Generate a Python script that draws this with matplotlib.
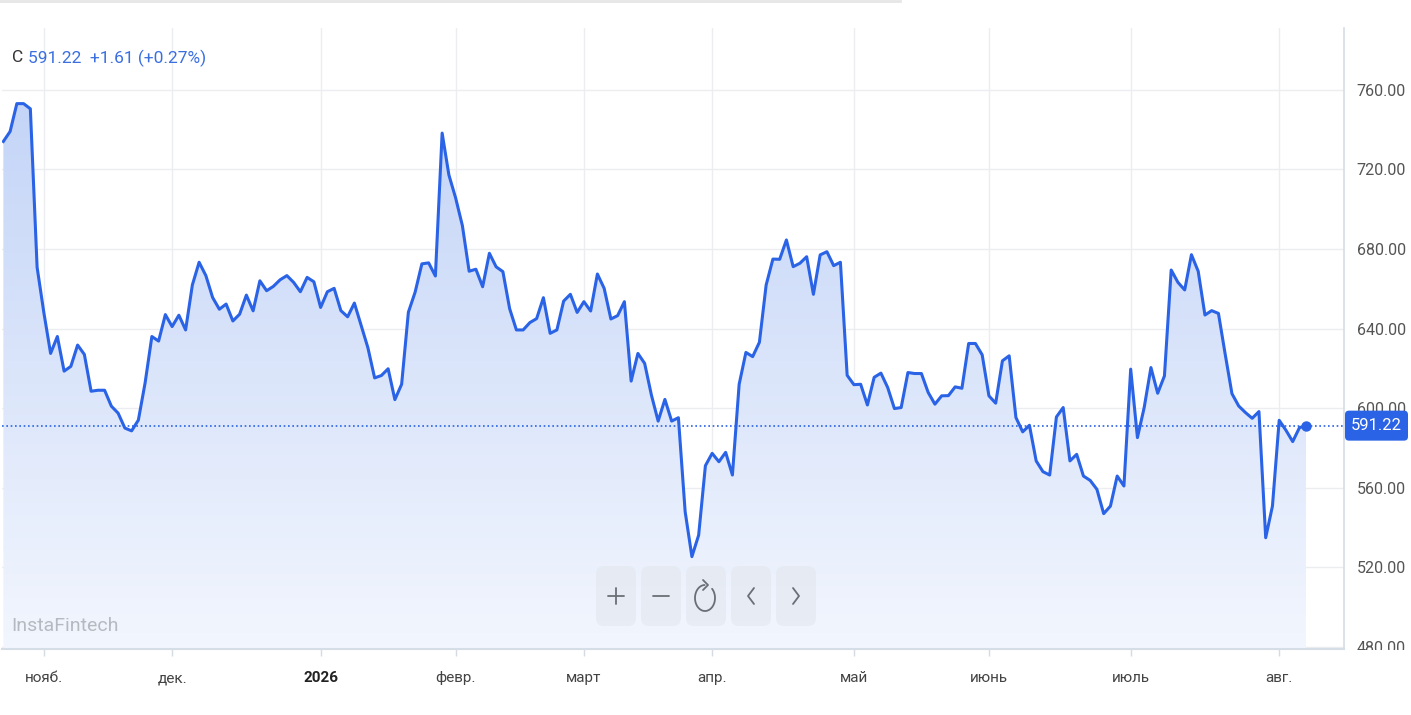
import numpy as np
import matplotlib
matplotlib.use("Agg")
import matplotlib.pyplot as plt
from matplotlib.patches import FancyBboxPatch, Rectangle, Polygon

# значения (дневные закрытия)
prices = [
    734, 739, 753, 753, 750.4, 670.8, 648, 627.5, 636, 618.6,
    621, 631.7, 627, 608.5, 609, 609, 601, 597.5, 590, 588.6,
    594, 612.7, 636, 633.7, 647, 641, 646.7, 639.3, 661.9, 673.3,
    666.6, 655.6, 649.7, 652.3, 643.8, 647.2, 656.8, 648.9, 664, 659,
    661.2, 664.5, 666.6, 663.2, 658.5, 665.7, 663.5, 650.6, 658.5, 660.2,
    649, 645.9, 652.8, 641.6, 630.4, 615.2, 616.4, 619.8, 604.3, 612,
    648.2, 658.3, 672.5, 673, 666.4, 738.2, 717.2, 705.6, 691.7, 668.8,
    669.8, 661, 677.8, 671, 668.6, 650, 639.3, 639.3, 643, 645,
    655.5, 637.6, 639.3, 653.8, 657.2, 648.1, 653.5, 648.8, 667.4, 660.2,
    644.8, 646.5, 653.5, 613.6, 627.5, 622.5, 606.6, 593.5, 604.4, 593.5,
    595.2, 548, 525.4, 536.2, 571.1, 577.3, 573.1, 577.8, 566.4, 612,
    628, 625.9, 633.1, 661.9, 674.9, 674.8, 684.5, 671.1, 672.8, 676.1,
    657.2, 677, 678.6, 671.6, 673.3, 616.5, 611.8, 612, 601.6, 615.5,
    617.6, 610.4, 599.8, 600.3, 617.9, 617.4, 617.4, 607.9, 602, 606.2,
    606.3, 610.7, 610, 632.5, 632.5, 626.8, 606.2, 602.5, 623.8, 626.3,
    595.3, 588.1, 591.4, 573.5, 568.1, 566.4, 595.6, 600.3, 573.5, 576.8,
    565.9, 563.7, 559.2, 547, 550.8, 565.9, 560.9, 619.6, 585.2, 600.3,
    620.4, 607.5, 616.2, 669.4, 663.2, 659.4, 677.1, 668.8, 646.8, 649,
    647.6, 627.1, 607.3, 601.1, 597.8, 594.9, 598.3, 534.9, 550.8, 593.9,
    588.9, 583.2, 590.2, 591.22,
]
month_pos = [6, 25, 47, 67, 86, 105, 126, 146, 167, 189]
month_names = ["нояб.", "дек.", "2026", "февр.", "март", "апр.", "май", "июнь", "июль", "авг."]
y_ticks = [480, 520, 560, 600, 640, 680, 720, 760]
symbol = "C"
last_price = 591.22
change = 1.61
change_pct = 0.27

plt.rcParams['font.family'] = ['Roboto', 'DejaVu Sans']

BLUE = '#2a63e6'
W, H = 1411, 715
fig = plt.figure(figsize=(W / 100, H / 100), dpi=100)
ax = fig.add_axes([2 / W, 1 - 649 / H, (1344 - 2) / W, (649 - 28) / H])

x = np.arange(len(prices))
y = np.array(prices)
ymin, ymax = 479, 791

# градиентная заливка под линией
grad = np.linspace(0, 1, 256)[:, None, None]
top_c = np.array([0.77, 0.835, 0.97])
bot_c = np.array([0.95, 0.965, 0.995])
img = bot_c + (top_c - bot_c) * grad
im = ax.imshow(img, extent=[x[0], x[-1], ymin, y.max()], origin='lower',
               aspect='auto', zorder=1, interpolation='bilinear')
verts = [(x[0], ymin)] + list(zip(x, y)) + [(x[-1], ymin)]
clip = Polygon(verts, closed=True, fc='none', ec='none')
ax.add_patch(clip)
im.set_clip_path(clip)

ax.plot(x, y, color=BLUE, lw=2.2, zorder=3)
ax.axhline(last_price, color=BLUE, lw=1.2, ls=(0, (1, 1.6)), zorder=2)
ax.plot(x[-1], y[-1], 'o', ms=6.5, color=BLUE, zorder=4)

ax.set_xlim(-0.2, 198.6)
ax.set_ylim(ymin, ymax)

ax.set_yticks(y_ticks)
ax.set_yticklabels([f"{v:.2f}" for v in y_ticks])
ax.yaxis.tick_right()
ax.set_xticks(month_pos)
ax.set_xticklabels(month_names)
ax.grid(color='#ebedf0', lw=1, zorder=0)
ax.set_axisbelow(True)
ax.tick_params(axis='y', length=0, pad=9, labelsize=11.5, labelcolor='#555555')
ax.tick_params(axis='x', length=5, width=1, color='#d5dbe2', pad=11,
               labelsize=11, labelcolor='#444444')
lbl = ax.get_xticklabels()[2]
lbl.set_fontweight('bold')
lbl.set_color('#222222')

for s in ['top', 'left']:
    ax.spines[s].set_visible(False)
ax.spines['right'].set_color('#d5dde6')
ax.spines['right'].set_linewidth(1.2)
ax.spines['bottom'].set_color('#d5dde6')
ax.spines['bottom'].set_linewidth(1.5)

# верхний слой в пикселях картинки
ov = fig.add_axes([0, 0, 1, 1])
ov.set_xlim(0, W)
ov.set_ylim(H, 0)
ov.axis('off')
ov.patch.set_alpha(0)

ov.plot([0, 900], [1, 1], color='#e6e6e6', lw=2)

# шапка
ov.text(12, 58, symbol, color='#333333', fontsize=12.5, va='center')
ov.text(28, 58, f"{last_price:.2f}  +{change:.2f} (+{change_pct:.2f}%)",
        color='#3a6fe0', fontsize=12.5, va='center')

ov.text(11, 626, "InstaFintech", color='#b5b9c0', fontsize=14, va='center')

# кнопки масштаба
icon = dict(color='#6a6e75', lw=1.3, solid_capstyle='round')
for i in range(5):
    bx = 596 + i * 45
    cx, cy = bx + 20, 596
    ov.add_patch(FancyBboxPatch((bx, 566), 40, 60, boxstyle="round,pad=0,rounding_size=8",
                                fc='#e3e7ee', ec='none', alpha=0.6))
    if i == 0:
        ov.plot([cx - 8, cx + 8], [cy, cy], **icon)
        ov.plot([cx, cx], [cy - 8, cy + 8], **icon)
    elif i == 1:
        ov.plot([cx - 8, cx + 8], [cy, cy], **icon)
    elif i == 2:
        t = np.radians(np.linspace(92, 405, 80))
        rx, ry, ccy = 10, 13, cy + 2
        ov.plot(cx - 1 + rx * np.cos(t), ccy - ry * np.sin(t), **icon)
        top = ccy - ry
        ov.plot([cx - 3, cx + 2, cx - 3], [top - 5, top, top + 5], **icon)
    elif i == 3:
        ov.plot([cx + 3, cx - 3, cx + 3], [cy - 8, cy, cy + 8], **icon)
    else:
        ov.plot([cx - 3, cx + 3, cx - 3], [cy - 8, cy, cy + 8], **icon)

# метка последней цены
py = H - ax.transData.transform((0, last_price))[1]
ov.add_patch(Rectangle((1345, 649.5), 66, 66, fc='white', ec='none'))
ov.add_patch(FancyBboxPatch((1345, py - 15), 63, 30, boxstyle="round,pad=0,rounding_size=4",
                            fc=BLUE, ec='none'))
ov.text(1376.5, py, f"{last_price:.2f}", color='white', fontsize=12, ha='center', va='center')

fig.savefig("out.png", dpi=100)
